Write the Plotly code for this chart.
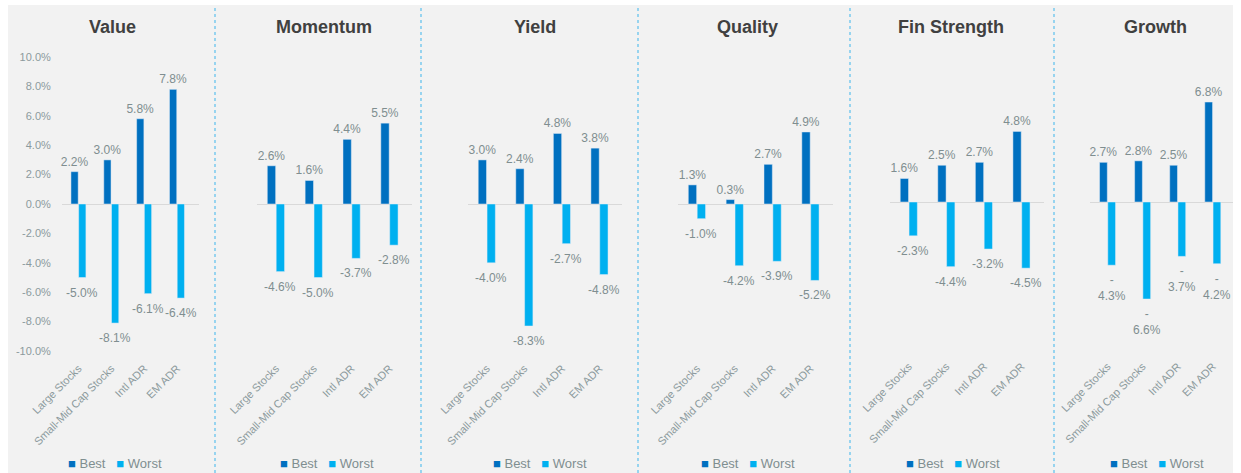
import plotly.graph_objects as go

W, H = 1241, 473

categories = ["Large Stocks", "Small-Mid Cap Stocks", "Intl ADR", "EM ADR"]
factors = ["Value", "Momentum", "Yield", "Quality", "Fin Strength", "Growth"]

best_value = [2.2, 3.0, 5.8, 7.8]
worst_value = [-5.0, -8.1, -6.1, -6.4]
best_momentum = [2.6, 1.6, 4.4, 5.5]
worst_momentum = [-4.6, -5.0, -3.7, -2.8]
best_yield = [3.0, 2.4, 4.8, 3.8]
worst_yield = [-4.0, -8.3, -2.7, -4.8]
best_quality = [1.3, 0.3, 2.7, 4.9]
worst_quality = [-1.0, -4.2, -3.9, -5.2]
best_fin = [1.6, 2.5, 2.7, 4.8]
worst_fin = [-2.3, -4.4, -3.2, -4.5]
best_growth = [2.7, 2.8, 2.5, 6.8]
worst_growth = [-4.3, -6.6, -3.7, -4.2]

best_series = [best_value, best_momentum, best_yield, best_quality, best_fin, best_growth]
worst_series = [worst_value, worst_momentum, worst_yield, worst_quality, worst_fin, worst_growth]

y_ticks = [10, 8, 6, 4, 2, 0, -2, -4, -6, -8, -10]

# layout geometry (pixels)
panel_x = [(62, 199), (257, 412), (468, 622), (678, 833), (890, 1044), (1090, 1233)]
panel_y = [(57, 351), (57, 351), (57, 351), (57, 351), (55, 349), (55, 349)]
title_x = [112, 324, 535, 747, 951, 1155]
legend_x = [115, 327, 540, 748, 953, 1157]
separators = [215, 421, 638, 850, 1054]

BEST = "#0070C0"
WORST = "#00B0F0"
GRAY_TXT = "#7F8E90"
FONT = "Liberation Sans"
BARGAP = 0.53
GROUPGAP = 0.06

def px(x):
    return x / W

def py(y):
    return 1 - y / H

fig = go.Figure()
layout = dict(
    width=W, height=H,
    margin=dict(l=0, r=0, t=0, b=0),
    paper_bgcolor="white", plot_bgcolor="rgba(0,0,0,0)",
    barmode="group", bargap=BARGAP, bargroupgap=GROUPGAP,
    font=dict(family=FONT, color=GRAY_TXT),
    showlegend=False,
    shapes=[], annotations=[],
)

layout["shapes"].append(dict(type="rect", xref="paper", yref="paper",
                             x0=px(8), x1=px(1233), y0=0, y1=py(5),
                             fillcolor="#F2F2F2", line=dict(width=0), layer="below"))
for sx in separators:
    layout["shapes"].append(dict(type="line", xref="paper", yref="paper",
                                 x0=px(sx), x1=px(sx), y0=0, y1=py(5),
                                 line=dict(color="#3DB5EC", width=1, dash="dot")))

def worst_text(v, i):
    s = f"{v:.1f}%"
    if i == 5:
        return s.replace("-", "-<br>", 1)
    return s

for i, f in enumerate(factors):
    n = "" if i == 0 else str(i + 1)
    xa, ya = "x" + n, "y" + n
    fig.add_trace(go.Bar(
        x=categories, y=best_series[i], name="Best", marker_color=BEST,
        text=[f"{v:.1f}%" for v in best_series[i]], textposition="outside",
        textfont=dict(size=12, color=GRAY_TXT), constraintext="none",
        cliponaxis=False, xaxis=xa, yaxis=ya, hoverinfo="skip"))
    fig.add_trace(go.Bar(
        x=categories, y=worst_series[i], name="Worst", marker_color=WORST,
        cliponaxis=False, xaxis=xa, yaxis=ya, hoverinfo="skip"))

    x0, x1 = panel_x[i]
    y0, y1 = panel_y[i]
    cw = (x1 - x0) / len(categories)
    worst_shift = (1 - BARGAP) / 4 * cw
    for c, v in zip(categories, worst_series[i]):
        layout["annotations"].append(dict(
            text=worst_text(v, i), xref=xa, yref=ya, x=c, y=v,
            xanchor="center", yanchor="top", xshift=worst_shift, yshift=-6,
            showarrow=False, font=dict(size=12, color=GRAY_TXT)))

    layout["xaxis" + n] = dict(
        domain=[px(x0), px(x1)], anchor=ya, tickangle=-45,
        tickfont=dict(size=11, color="#8C9A9D"), showgrid=False,
        showline=False, zeroline=False, ticks="", ticklabelstandoff=8,
        automargin=False, fixedrange=True)
    layout["yaxis" + n] = dict(
        domain=[py(y1), py(y0)], anchor=xa, range=[-10, 10],
        showgrid=False, zeroline=True, zerolinecolor="#D9D9D9", zerolinewidth=1,
        showline=False, automargin=False, fixedrange=True,
        tickvals=y_ticks, ticktext=[f"{t:.1f}%" for t in y_ticks],
        showticklabels=(i == 0), ticks="outside", ticklen=8, tickcolor="rgba(0,0,0,0)",
        tickfont=dict(size=11, color="#8C9A9D"))
    layout["annotations"].append(dict(
        text=f"<b>{f}</b>", xref="paper", yref="paper", x=px(title_x[i]), y=py(27),
        xanchor="center", yanchor="middle", showarrow=False,
        font=dict(size=18, color="#404040", family=FONT)))
    layout["annotations"].append(dict(
        text=(f"<span style='color:{BEST}'>■</span> Best   "
              f"<span style='color:{WORST}'>■</span> Worst"),
        xref="paper", yref="paper", x=px(legend_x[i]), y=py(463),
        xanchor="center", yanchor="middle", showarrow=False,
        font=dict(size=13, color=GRAY_TXT)))

fig.update_layout(**layout)
fig.write_html(
    "out.html",
    config={"displayModeBar": False},
    post_script="document.body.style.margin='0';document.body.style.overflow='hidden';",
)
